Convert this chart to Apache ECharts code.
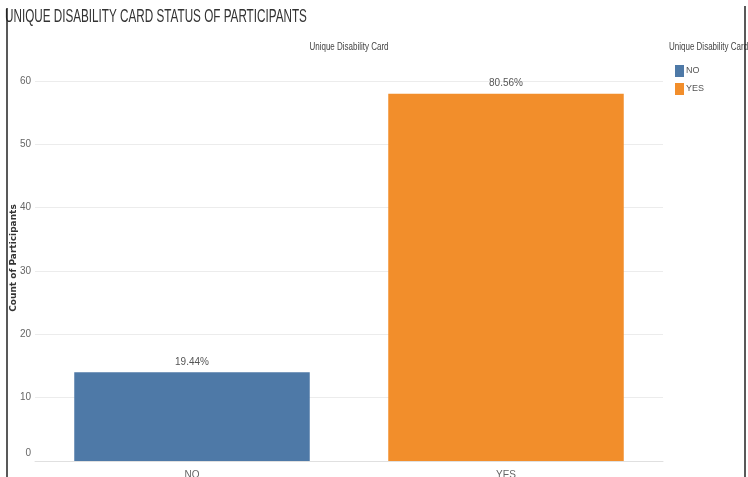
<!DOCTYPE html>
<html><head><meta charset="utf-8">
<script src="https://cdn.jsdelivr.net/npm/echarts@6/dist/echarts.min.js"></script>
<style>html,body{margin:0;padding:0;background:#fff}#c{width:748px;height:477px}</style>
</head><body><div id="c"></div>
<script>
var categories = ['NO', 'YES'];
var counts = [14, 58];
var colors = ['#4e79a7', '#f28e2b'];
var yTicks = [0, 10, 20, 30, 40, 50, 60];

var total = counts.reduce(function (a, b) { return a + b; }, 0);
var FONT = '"Liberation Sans", sans-serif';
var chart = echarts.init(document.getElementById('c'));
var series = categories.map(function (cat, i) {
  return {
    name: cat, type: 'bar', stack: 'all', barWidth: '75%',
    itemStyle: { color: colors[i] },
    data: categories.map(function (c, j) { return j === i ? counts[i] : null; }),
    label: {
      show: true, position: 'top', distance: 5, color: '#555', fontFamily: FONT, fontSize: 10,
      formatter: function (p) { return (p.value / total * 100).toFixed(2) + '%'; }
    }
  };
});
chart.setOption({
  animation: false,
  grid: { left: 35, right: 85, top: 81, bottom: 16, containLabel: false, outerBoundsMode: 'none' },
  legend: {
    orient: 'vertical', left: 670, top: 60, itemWidth: 9, itemHeight: 12, itemGap: 6,
    icon: 'rect', data: categories,
    textStyle: { fontFamily: FONT, fontSize: 9, color: '#555', padding: [0, 0, 0, -3] }
  },
  xAxis: {
    type: 'category', data: categories,
    axisLine: { lineStyle: { color: '#e0e0e0' } }, axisTick: { show: false },
    axisLabel: { fontFamily: FONT, fontSize: 10, color: '#666', margin: 9 }
  },
  yAxis: {
    type: 'value', min: 0, max: 60, interval: 10,
    axisLabel: { fontFamily: FONT, fontSize: 10, color: '#666', margin: 4,
      formatter: function (v) {
        if (yTicks.indexOf(v) < 0) return '';
        return v === 0 ? '{z|0}' : String(v);
      },
      rich: { z: { fontFamily: FONT, fontSize: 10, color: '#666', padding: [0, 0, 16, 0] } } },
    splitLine: { lineStyle: { color: '#ececec' } },
    axisLine: { show: false }, axisTick: { show: false }
  },
  graphic: [
    { type: 'text', x: 5, y: 8, scaleX: 0.65, style: { text: 'UNIQUE DISABILITY CARD STATUS OF PARTICIPANTS', fontFamily: FONT, fontSize: 18, fill: '#333' } },
    { type: 'text', x: 349, y: 42, scaleX: 0.8, style: { text: 'Unique Disability Card', align: 'center', fontFamily: FONT, fontSize: 10, fill: '#444' } },
    { type: 'text', x: 669, y: 42, scaleX: 0.8, style: { text: 'Unique Disability Card', fontFamily: FONT, fontSize: 10, fill: '#444' } },
    { type: 'text', x: 9, y: 258, rotation: Math.PI / 2, style: { text: 'Count of Participants', align: 'center', verticalAlign: 'top', fontFamily: '"DejaVu Sans", sans-serif', fontSize: 9, fontWeight: 'bold', fill: '#333' } },
    { type: 'line', shape: { x1: 7, y1: 8, x2: 7, y2: 477 }, style: { stroke: '#222', lineWidth: 1.5 } },
    { type: 'line', shape: { x1: 745, y1: 6, x2: 745, y2: 477 }, style: { stroke: '#222', lineWidth: 1.5 } }
  ],
  series: series
});
</script></body></html>
